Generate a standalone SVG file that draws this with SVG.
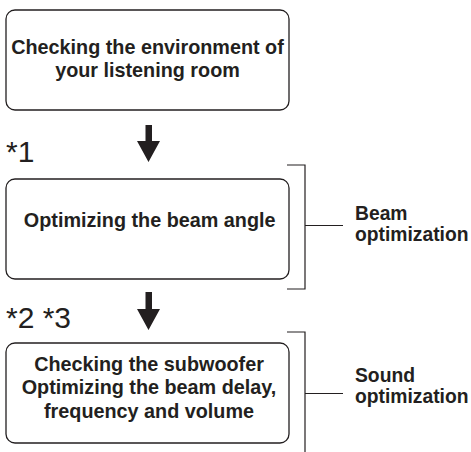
<svg xmlns="http://www.w3.org/2000/svg" width="471" height="452" viewBox="0 0 471 452">
<style>
.box{fill:#fff;stroke:#231f20;stroke-width:1.3}
.t{font-family:"Liberation Sans",Arial,sans-serif;font-weight:bold;font-size:19.8px;fill:#231f20;text-anchor:middle}
.l{font-family:"Liberation Sans",Arial,sans-serif;font-weight:bold;font-size:19.3px;fill:#231f20}
.n{font-family:"Liberation Sans",Arial,sans-serif;font-size:30px;fill:#231f20}
.br{fill:none;stroke:#231f20;stroke-width:1.2}
.ar{fill:#231f20}
</style>
<rect width="471" height="452" fill="#fff"/>
<g id="node1">
<rect class="box" x="6" y="10" width="283" height="100" rx="9"/>
<text class="t" x="147.5" y="53.5">Checking the environment of</text>
<text class="t" x="147.5" y="76.8">your listening room</text>
</g>
<g id="node2">
<rect class="box" x="6" y="179" width="283" height="100" rx="9"/>
<text class="t" x="149.7" y="227">Optimizing the beam angle</text>
</g>
<g id="node3">
<rect class="box" x="6" y="343" width="283" height="100" rx="9"/>
<text class="t" x="149" y="371">Checking the subwoofer</text>
<text class="t" x="149" y="394.3">Optimizing the beam delay,</text>
<text class="t" x="149" y="417.7">frequency and volume</text>
</g>
<g id="notes">
<text class="n" x="6" y="161.7">*1</text>
<text class="n" x="6" y="327.7">*2 *3</text>
</g>
<g id="bracket1">
<path class="br" d="M287 165H305V289H287M305 225.5H343"/>
<text class="l" x="355" y="220">Beam</text>
<text class="l" x="355" y="241">optimization</text>
</g>
<g id="bracket2">
<path class="br" d="M287 332H305V452M305 393.5H343"/>
<text class="l" x="355" y="381.7">Sound</text>
<text class="l" x="355" y="403">optimization</text>
</g>
<g id="connectors">
<path class="ar" d="M145.5 125H152V141H160L148.5 162L137 141H145.5Z"/>
<path class="ar" d="M145.5 292H152V309H160L148.5 330L137 309H145.5Z"/>
</g>
</svg>
